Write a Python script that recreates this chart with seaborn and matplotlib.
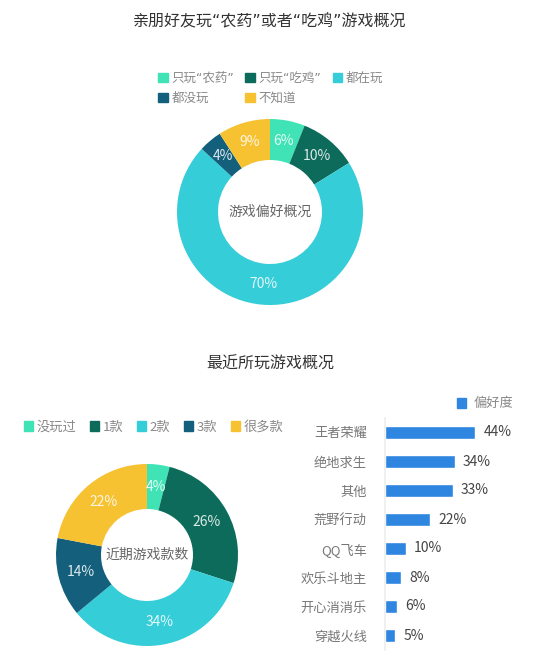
import numpy as np
import pandas as pd
import matplotlib
matplotlib.use("Agg")
import matplotlib.pyplot as plt
from matplotlib.patches import Patch
import seaborn as sns

sns.set_theme(style="white")
plt.rcParams['font.family'] = ['Noto Sans CJK SC', 'DejaVu Sans']
# narrow curly quotes come from DejaVu, CJK falls through to Noto
QUOTE_FONT = ['DejaVu Sans', 'Noto Sans CJK SC']

# top donut: friends playing "王者荣耀" / "吃鸡"
pref_labels = ["只玩“农药”", "只玩“吃鸡”", "都在玩", "都没玩", "不知道"]
pref_values = [6, 10, 70, 4, 9]
pref_text = ["6%", "10%", "70%", "4%", "9%"]

# bottom donut: number of games played recently
count_labels = ["没玩过", "1款", "2款", "3款", "很多款"]
count_values = [4, 26, 34, 14, 22]
count_text = ["4%", "26%", "34%", "14%", "22%"]

# bar chart: preference per game
games = ["王者荣耀", "绝地求生", "其他", "荒野行动", "QQ飞车", "欢乐斗地主", "开心消消乐", "穿越火线"]
game_pct = [44, 34, 33, 22, 10, 8, 6, 5]

colors = ["#3fe3b5", "#0d6b5b", "#35cdd8", "#135f7c", "#f6c232"]
bar_color = "#2f86e0"

W, H = 549, 654
fig = plt.figure(figsize=(W / 100, H / 100), dpi=100)
fig.patch.set_facecolor("white")


def px_axes(x0, y0, w, h):
    # axes from pixel box (top-left origin)
    return fig.add_axes([x0 / W, 1 - (y0 + h) / H, w / W, h / H])


def donut(ax, values, texts, radius, width, center_label):
    wedges, _ = ax.pie(values, colors=colors, startangle=90, counterclock=False,
                       radius=radius, wedgeprops=dict(width=width, linewidth=0))
    r_mid = radius - width / 2
    for w, t in zip(wedges, texts):
        ang = np.deg2rad((w.theta1 + w.theta2) / 2)
        ax.text(r_mid * np.cos(ang), r_mid * np.sin(ang), t, ha="center", va="center",
                color="white", alpha=0.85, fontsize=10)
    ax.text(0, 0, center_label, ha="center", va="center", color="#666666", fontsize=10)
    ax.set_xlim(-1, 1)
    ax.set_ylim(-1, 1)
    ax.set_aspect("equal")
    ax.axis("off")


# titles
fig.text(270 / W, 1 - 22 / H, "亲朋好友玩“农药”或者“吃鸡”游戏概况", ha="center", va="center",
         fontsize=11.5, color="#333333", family=QUOTE_FONT)
fig.text(270 / W, 1 - 364 / H, "最近所玩游戏概况", ha="center", va="center",
         fontsize=11.5, color="#333333")

# top donut
ax1 = px_axes(170, 112, 200, 200)
donut(ax1, pref_values, pref_text, 0.93, 0.41, "游戏偏好概况")

order = [0, 3, 1, 4, 2]
handles = [Patch(color=colors[i], label=pref_labels[i]) for i in order]
fig.legend(handles=handles, ncol=3, loc="upper left",
           bbox_to_anchor=(152 / W, 1 - 66 / H), frameon=False,
           prop=dict(family=QUOTE_FONT, size=9), labelcolor="#888888",
           handlelength=0.75, handleheight=0.75,
           handletextpad=0.3, columnspacing=0.9, labelspacing=0.55, borderpad=0)

# bottom donut
ax2 = px_axes(47, 455, 200, 200)
donut(ax2, count_values, count_text, 0.91, 0.45, "近期游戏款数")

handles2 = [Patch(color=c, label=l) for c, l in zip(colors, count_labels)]
fig.legend(handles=handles2, ncol=5, loc="upper left",
           bbox_to_anchor=(17 / W, 1 - 414 / H), frameon=False,
           fontsize=9.5, labelcolor="#888888", handlelength=0.7, handleheight=0.7,
           handletextpad=0.3, columnspacing=1.0, borderpad=0)

# bar chart
bar_df = pd.DataFrame({"game": games, "pct": game_pct})
ax3 = px_axes(385, 418, 102.5, 232)
sns.barplot(data=bar_df, x="pct", y="game", color=bar_color, width=0.48,
            saturation=1, ax=ax3)
ax3.set_xlim(0, 50)
ax3.set_ylim(len(games) - 0.5, -0.5)
ax3.set_xlabel("")
ax3.set_ylabel("")
ax3.set_xticks([])
ax3.tick_params(axis="y", length=0, pad=13, labelsize=9.5, labelcolor="#777777")
for s in ["top", "right", "bottom"]:
    ax3.spines[s].set_visible(False)
ax3.spines["left"].set_color("#eeeeee")
for i, v in enumerate(game_pct):
    ax3.text(v + 4, i, f"{v}%", va="center", ha="left", fontsize=10, color="#444444")

fig.legend(handles=[Patch(color=bar_color, label="偏好度")], loc="center left",
           bbox_to_anchor=(450 / W, 1 - 404 / H), frameon=False, fontsize=9.5,
           labelcolor="#888888", handlelength=0.7, handleheight=0.7,
           handletextpad=0.6, borderpad=0)

fig.savefig("out.png", dpi=100, facecolor="white")
